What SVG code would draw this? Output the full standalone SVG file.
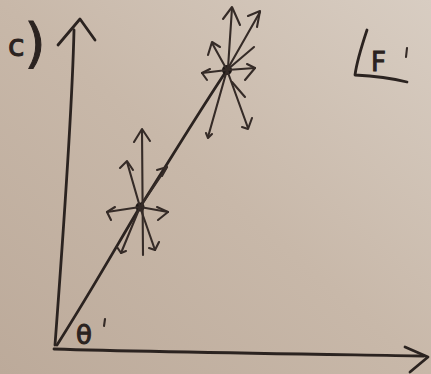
<svg xmlns="http://www.w3.org/2000/svg" width="431" height="374" viewBox="0 0 431 374">
<defs>
<linearGradient id="paper" x1="0" y1="1" x2="1" y2="0">
<stop offset="0" stop-color="#bcaa9a"/>
<stop offset="0.5" stop-color="#c8b8a9"/>
<stop offset="1" stop-color="#d8cdc2"/>
</linearGradient>
<style>
.ink{fill:none;stroke:#2b2320;stroke-width:2.8;stroke-linecap:round;stroke-linejoin:round}
.thin{fill:none;stroke:#352b27;stroke-width:2.1;stroke-linecap:round;stroke-linejoin:round}
.txt{fill:#2b2320;stroke:#2b2320;stroke-width:1;font-family:"DejaVu Sans","Liberation Sans",sans-serif}
</style>
</defs>
<rect width="431" height="374" fill="url(#paper)"/>
<g id="axes">
<path class="ink" d="M74,30 C72,120 62,250 55,345"/>
<path class="ink" d="M58,45 L80,19 L95,40"/>
<path class="ink" d="M54,349 C150,352 300,354 424,356"/>
<path class="ink" d="M405,347 L428,357 L410,372"/>
<path class="ink" d="M57,345 C95,285 120,240 140,207 C170,160 200,110 227,70"/>
</g>
<g id="node-lower">
<circle cx="140" cy="207" r="4.5" fill="#1e1816"/>
<path class="thin" d="M143,255 L142,130"/>
<path class="thin" d="M134,142 L142,129 L150,141"/>
<path class="thin" d="M140,207 L127,162"/>
<path class="thin" d="M120,168 L127,161 L133,170"/>
<path class="thin" d="M140,207 L167,167"/>
<path class="thin" d="M157,170 L167,167 L162,176"/>
<path class="thin" d="M140,207 L107,212"/>
<path class="thin" d="M115,207 L107,212 L111,220"/>
<path class="thin" d="M140,207 L168,212"/>
<path class="thin" d="M157,207 L168,212 L158,220"/>
<path class="thin" d="M140,207 L121,253"/>
<path class="thin" d="M117,247 L121,253 L126,251"/>
<path class="thin" d="M140,207 L155,250"/>
<path class="thin" d="M159,242 L155,250 L149,248"/>
</g>
<g id="node-upper">
<circle cx="227" cy="70" r="5" fill="#1e1816"/>
<path class="thin" d="M228,68 L232,8"/>
<path class="thin" d="M223,19 L232,7 L240,25"/>
<path class="thin" d="M227,70 L260,12"/>
<path class="thin" d="M248,16 L260,11 L257,27"/>
<path class="thin" d="M227,70 L254,47"/>
<path class="thin" d="M227,70 L212,43"/>
<path class="thin" d="M208,55 L212,42 L220,47"/>
<path class="thin" d="M227,70 L202,73"/>
<path class="thin" d="M210,69 L202,73 L207,80"/>
<path class="thin" d="M227,70 L255,68"/>
<path class="thin" d="M247,64 L255,68 L245,80"/>
<path class="thin" d="M227,70 L208,137"/>
<path class="thin" d="M206,133 L208,138 L212,134"/>
<path class="thin" d="M227,70 L248,128"/>
<path class="thin" d="M242,127 L248,129 L252,118"/>
<path class="thin" d="M232,82 L245,97"/>
</g>
<g id="labels">
<text class="txt" font-size="44"><tspan x="8" y="56" font-size="30">c</tspan><tspan y="62" font-size="54">)</tspan></text>
<path class="ink" d="M367,30 C362,45 357,60 355,75 C375,76 395,79 407,82"/>
<text class="txt" x="371" y="71" font-size="26">F</text>
<path class="thin" d="M407,48 L406,57"/>
<text class="txt" x="76" y="344" font-size="26">θ</text>
<path class="thin" d="M105,319 L104,326"/>
</g>
</svg>
